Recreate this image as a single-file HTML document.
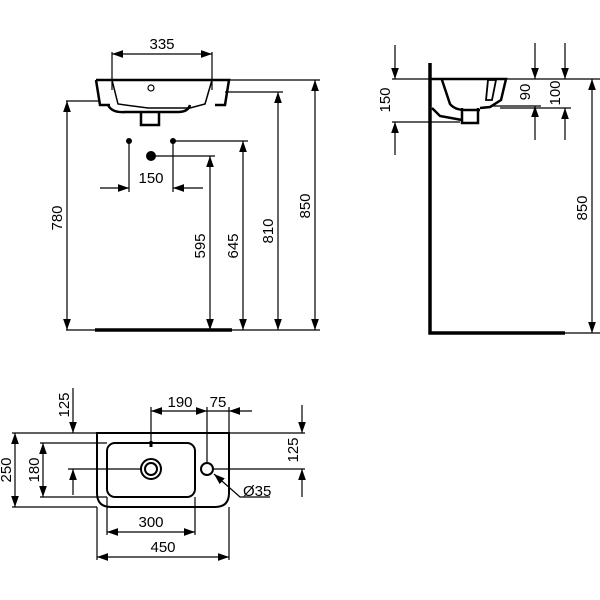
<!DOCTYPE html>
<html><head><meta charset="utf-8"><style>html,body{margin:0;padding:0;background:#fff}svg{display:block}text{font-family:"Liberation Sans",sans-serif;font-size:15px;fill:#000}</style></head>
<body>
<svg width="600" height="600" viewBox="0 0 600 600" xmlns="http://www.w3.org/2000/svg">
<defs>
<marker id="a" viewBox="0 0 10 10" refX="10" refY="5" markerWidth="11" markerHeight="11" orient="auto-start-reverse" markerUnits="userSpaceOnUse"><path d="M0,1.5L10,5L0,8.5z" fill="#000"/></marker>
</defs>
<g stroke="#000" stroke-width="1.2" fill="none">
<!-- FRONT VIEW -->
<path d="M96,80 L229,80 L225,105 L215,105 M96,80 L100,105 L110,105" stroke-width="2.5"/>
<path d="M112,80 L118,104 L148,108 L190,108 L205,104 L212,80" stroke-width="1.5"/>
<path d="M108,105 Q112,113 125,112 L178,112 Q188,112 190,105" stroke-width="2.5"/>
<path d="M141,112 L141,125 L159,125 L159,112" stroke-width="2.5"/>
<circle cx="151" cy="88" r="3"/>
<path d="M112,52 L112,90 M212,52 L212,90"/>
<line x1="112" y1="54" x2="212" y2="54" marker-start="url(#a)" marker-end="url(#a)"/>
<path d="M229,80 L320,80 M225,92 L283,92 M66,101 L100,101 M66,330 L320,330"/>
<line x1="67" y1="101" x2="67" y2="330" marker-start="url(#a)" marker-end="url(#a)"/>
<line x1="315" y1="80" x2="315" y2="330" marker-start="url(#a)" marker-end="url(#a)"/>
<line x1="278" y1="92" x2="278" y2="330" marker-start="url(#a)" marker-end="url(#a)"/>
<line x1="243" y1="141" x2="243" y2="330" marker-start="url(#a)" marker-end="url(#a)"/>
<line x1="210" y1="156" x2="210" y2="330" marker-start="url(#a)" marker-end="url(#a)"/>
<line x1="95" y1="330" x2="232" y2="330" stroke-width="3.5"/>
<path d="M173,141 L248,141 M151,156 L215,156 M129,141 L129,192 M173,141 L173,192"/>
<line x1="100" y1="188" x2="129" y2="188" marker-end="url(#a)"/>
<line x1="203" y1="188" x2="173" y2="188" marker-end="url(#a)"/>
<!-- SIDE VIEW -->
<path d="M430,63 L430,333 L565,333" stroke-width="3.5"/>
<path d="M430,79 L506,79 L501,100 L490,107 L480,108 M442,80 L450,104 Q455,110 465,110 L480,110 M432,108 L440,116 L462,120" stroke-width="2.5"/>
<path d="M488,80 L496,80 L492,100 L486,100 z" stroke-width="1.8"/>
<path d="M462,108 L462,123 L478,123 L478,108" stroke-width="2.5"/>
<path d="M392,79 L600,79 M392,122 L460,122 M490,106 L541,106 M500,108 L571,108"/>
<line x1="395" y1="45" x2="395" y2="79" marker-end="url(#a)"/>
<line x1="395" y1="155" x2="395" y2="122" marker-end="url(#a)"/>
<line x1="535" y1="43" x2="535" y2="79" marker-end="url(#a)"/>
<line x1="535" y1="140" x2="535" y2="106" marker-end="url(#a)"/>
<line x1="565" y1="43" x2="565" y2="79" marker-end="url(#a)"/>
<line x1="565" y1="140" x2="565" y2="108" marker-end="url(#a)"/>
<line x1="592" y1="79" x2="592" y2="333" marker-start="url(#a)" marker-end="url(#a)"/>
<line x1="565" y1="333" x2="600" y2="333"/>
<!-- PLAN VIEW -->
<path d="M97,433 L229,433 L229,493 Q229,507 215,507 L111,507 Q97,507 97,493 Z" stroke-width="2"/>
<rect x="107" y="443" width="88" height="54" rx="8" stroke-width="2"/>
<circle cx="151" cy="469" r="10" stroke-width="2"/>
<circle cx="151" cy="469" r="6" stroke-width="2"/>
<circle cx="207" cy="469" r="6" stroke-width="2"/>
<line x1="151" y1="441" x2="151" y2="447" stroke-width="3"/>
<path d="M12,433 L97,433 M12,507 L97,507 M40,443 L107,443 M40,497 L107,497 M68,469 L141,469 M213,469 L305,469 M229,433 L305,433"/>
<path d="M151,407 L151,443 M207,407 L207,463 M229,407 L229,433 M97,507 L97,560 M229,507 L229,560 M107,497 L107,535 M195,497 L195,535"/>
<line x1="15" y1="433" x2="15" y2="507" marker-start="url(#a)" marker-end="url(#a)"/>
<line x1="43" y1="443" x2="43" y2="497" marker-start="url(#a)" marker-end="url(#a)"/>
<line x1="73" y1="388" x2="73" y2="433" marker-end="url(#a)"/>
<line x1="73" y1="495" x2="73" y2="469" marker-end="url(#a)"/>
<line x1="302" y1="405" x2="302" y2="433" marker-end="url(#a)"/>
<line x1="302" y1="497" x2="302" y2="469" marker-end="url(#a)"/>
<line x1="151" y1="411" x2="207" y2="411" marker-start="url(#a)" marker-end="url(#a)"/>
<line x1="252" y1="411" x2="229" y2="411" marker-end="url(#a)"/>
<line x1="207" y1="411" x2="229" y2="411"/>
<line x1="107" y1="532" x2="195" y2="532" marker-start="url(#a)" marker-end="url(#a)"/>
<line x1="97" y1="557" x2="229" y2="557" marker-start="url(#a)" marker-end="url(#a)"/>
<path d="M270,497 L240,497 L214,474" marker-end="url(#a)"/>
</g>
<circle cx="129" cy="141" r="3" fill="#000"/>
<circle cx="173" cy="141" r="3" fill="#000"/>
<circle cx="151" cy="156" r="5" fill="#000"/>
<text x="162" y="49" text-anchor="middle">335</text>
<text x="151" y="183" text-anchor="middle">150</text>
<text transform="translate(62,218) rotate(-90)" text-anchor="middle">780</text>
<text transform="translate(310,206) rotate(-90)" text-anchor="middle">850</text>
<text transform="translate(273,231) rotate(-90)" text-anchor="middle">810</text>
<text transform="translate(238,246) rotate(-90)" text-anchor="middle">645</text>
<text transform="translate(205,246) rotate(-90)" text-anchor="middle">595</text>
<text transform="translate(390,100) rotate(-90)" text-anchor="middle">150</text>
<text transform="translate(530,92) rotate(-90)" text-anchor="middle">90</text>
<text transform="translate(560,93) rotate(-90)" text-anchor="middle">100</text>
<text transform="translate(587,208) rotate(-90)" text-anchor="middle">850</text>
<text transform="translate(11,470) rotate(-90)" text-anchor="middle">250</text>
<text transform="translate(39,470) rotate(-90)" text-anchor="middle">180</text>
<text transform="translate(69,405) rotate(-90)" text-anchor="middle">125</text>
<text transform="translate(298,450) rotate(-90)" text-anchor="middle">125</text>
<text x="180" y="407" text-anchor="middle">190</text>
<text x="218" y="407" text-anchor="middle">75</text>
<text x="151" y="527" text-anchor="middle">300</text>
<text x="163" y="552" text-anchor="middle">450</text>
<text x="243" y="496">Ø35</text>
</svg>
</body></html>
